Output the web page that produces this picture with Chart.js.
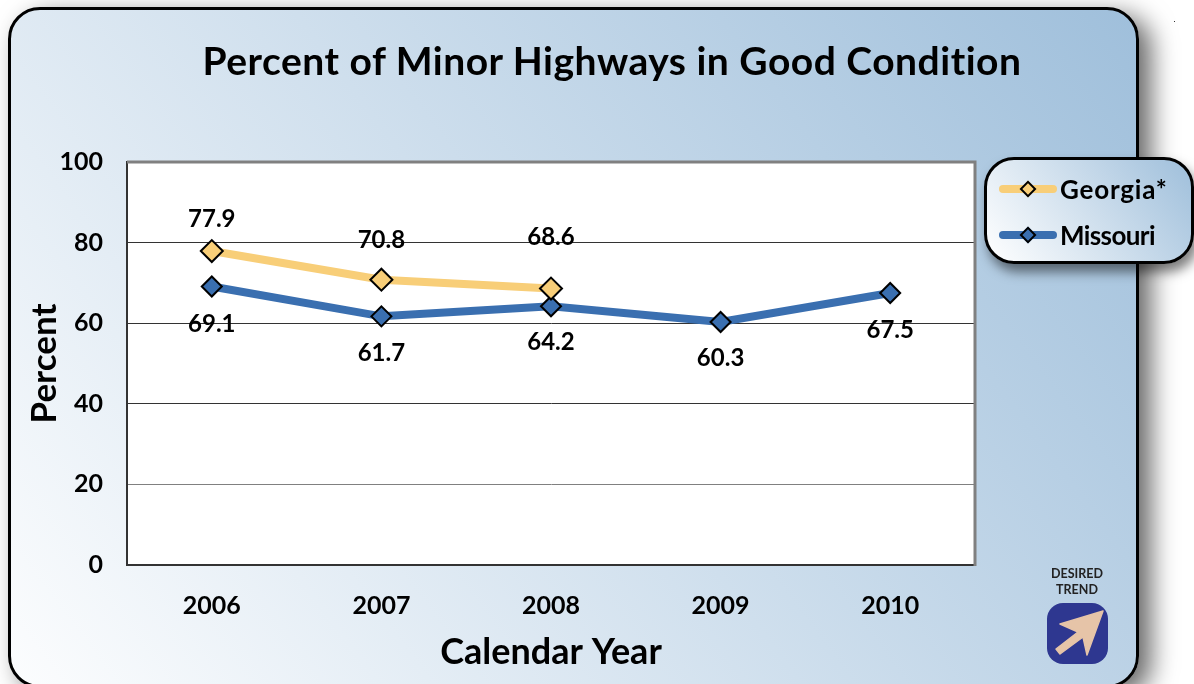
<!DOCTYPE html>
<html>
<head>
<meta charset="utf-8">
<title>Percent of Minor Highways in Good Condition</title>
<script src="https://cdn.jsdelivr.net/npm/chart.js@4"></script>
<style>
  html, body { margin: 0; padding: 0; background: #fff; overflow: hidden; }
  body { width: 1194px; height: 684px; position: relative; font-family: Lato, sans-serif; color: #000; }
  #panel {
    position: absolute; left: 8px; top: 7px; width: 1125px; height: 675px;
    border: 3px solid #000; border-radius: 32px;
    background: linear-gradient(53deg, #fcfdfe 0%, #9fbfdb 100%);
    box-shadow: 12px 8px 26px rgba(0,0,0,.6);
  }
  #dot { position: absolute; left: 1174px; top: 21px; width: 1px; height: 1px; background: #333; }
  #chart { position: absolute; left: 0; top: 0; }
  #title { position: absolute; left: 202px; top: 37px; width: 820px; text-align: center; white-space: nowrap; font-weight: 700; font-size: 39px; line-height: 46px; letter-spacing: 0.5px; }
  #legend {
    position: absolute; left: 984px; top: 157px; width: 204px; height: 101px;
    border: 3px solid #000; border-radius: 30px;
    background: linear-gradient(53deg, #ffffff 0%, #9fbfdb 100%);
    box-shadow: 4px 8px 12px rgba(0,0,0,.5);
  }
  .leg { position: absolute; left: 12px; height: 30px; display: flex; align-items: center; font-weight: 700; font-size: 26px; letter-spacing: 0.8px; }
  .leg + .leg { letter-spacing: -0.6px; }
  .leg .sw { width: 58px; height: 8px; border-radius: 4px; position: relative; margin-right: 3px; }
  .leg .sw i { position: absolute; left: 23px; top: -2px; width: 12px; height: 12px; border: 2px solid #000; box-sizing: border-box; transform: rotate(45deg); }
  #trend { position: absolute; left: 1040px; top: 566px; width: 74px; text-align: center; font-weight: 700; font-size: 12.5px; line-height: 16px; color: #222; }
  #arrow { position: absolute; left: 1046px; top: 603px; }
</style>
</head>
<body>
<div id="panel"></div>
<div id="dot"></div>
<canvas id="chart" width="1194" height="684"></canvas>
<div id="title">Percent of Minor Highways in Good Condition</div>
<div id="legend"></div>
<div id="trend">DESIRED<br>TREND</div>
<svg id="arrow" width="62" height="62" viewBox="0 0 62 62">
  <rect x="1" y="0" width="61" height="61" rx="16" fill="#2e3790"/>
  <path d="M57 8 L14 21 L32 29 L10 46 L14 51 L37 34 L41 52 Z" fill="#e6c4a8" stroke="#e6c4a8" stroke-width="1.5" stroke-linejoin="round"/>
</svg>
<script>
const years = ["2006", "2007", "2008", "2009", "2010"];
const georgia = [77.9, 70.8, 68.6, null, null];
const missouri = [69.1, 61.7, 64.2, 60.3, 67.5];
const yTicks = [0, 20, 40, 60, 80, 100];

const FONT = "Lato, sans-serif";
const GOLD = "#f8ce78";
const BLUE = "#3a6fb0";

// white plot box with the grey top and right edges
const plotBack = {
  id: "plotBack",
  beforeDraw(chart) {
    const a = chart.chartArea;
    chart.ctx.fillStyle = "#fff";
    chart.ctx.fillRect(a.left, a.top, a.width, a.height);
  },
  beforeDatasetsDraw(chart) {
    const a = chart.chartArea, ctx = chart.ctx;
    ctx.save();
    ctx.strokeStyle = "#808080";
    ctx.lineWidth = 3;
    ctx.beginPath();
    ctx.moveTo(a.left, a.top);
    ctx.lineTo(a.right, a.top);
    ctx.lineTo(a.right, a.bottom + 1);
    ctx.stroke();
    ctx.restore();
  }
};

// value labels above / below each point
const pointLabels = {
  id: "pointLabels",
  afterDatasetsDraw(chart) {
    const ctx = chart.ctx;
    ctx.save();
    ctx.font = "700 24px " + FONT;
    ctx.fillStyle = "#000";
    ctx.textAlign = "center";
    ctx.textBaseline = "middle";
    chart.data.datasets.forEach((ds, i) => {
      chart.getDatasetMeta(i).data.forEach((pt, j) => {
        if (ds.data[j] == null) return;
        ctx.fillText(ds.data[j].toFixed(1), pt.x, pt.y + ds.labelOffset[j]);
      });
    });
    ctx.restore();
  }
};

const chart = new Chart(document.getElementById("chart"), {
  type: "line",
  data: {
    labels: years,
    datasets: [{
      label: "Georgia*",
      data: georgia,
      borderColor: GOLD,
      backgroundColor: GOLD,
      borderWidth: 8,
      pointStyle: "rectRot",
      pointRadius: 11,
      pointHoverRadius: 11,
      pointBorderColor: "#000",
      pointBorderWidth: 2,
      pointBackgroundColor: GOLD,
      labelOffset: [-32, -39, -51]
    }, {
      label: "Missouri",
      data: missouri,
      borderColor: BLUE,
      backgroundColor: BLUE,
      borderWidth: 8,
      pointStyle: "rectRot",
      pointRadius: 10,
      pointHoverRadius: 10,
      pointBorderColor: "#000",
      pointBorderWidth: 2,
      pointBackgroundColor: BLUE,
      labelOffset: [38, 37, 36, 36, 37]
    }]
  },
  options: {
    responsive: false,
    animation: false,
    layout: { padding: { top: 162, right: 219, bottom: 0, left: 0 } },
    plugins: { legend: { display: false }, title: { display: false }, tooltip: { enabled: false } },
    scales: {
      x: {
        offset: true,
        afterFit(s) { s.height = 119; },
        grid: { display: false, drawTicks: false },
        border: { color: "#333", width: 2 },
        ticks: { color: "#000", padding: 26, font: { family: FONT, weight: "700", size: 25 } },
        title: { display: true, text: "Calendar Year", color: "#000", padding: { top: 0, bottom: 10 }, font: { family: FONT, weight: "700", size: 36 } }
      },
      y: {
        min: 0,
        max: 100,
        afterFit(s) { s.width = 127; },
        afterBuildTicks(s) { s.ticks = yTicks.map(v => ({ value: v })); },
        grid: { color: c => (c.tick.value === 20 ? "#808080" : "#333"), lineWidth: c => (c.tick.value === 100 ? 0 : 1), drawTicks: false },
        border: { color: "#333", width: 2 },
        ticks: { color: "#000", padding: 24, font: { family: FONT, weight: "700", size: 25 } },
        title: { display: true, text: "Percent", color: "#000", padding: { top: 24, bottom: 0 }, font: { family: FONT, weight: "700", size: 35 } }
      }
    }
  },
  plugins: [plotBack, pointLabels]
});

// legend is html because of its rounded gradient box, filled from the datasets
const legendEl = document.getElementById("legend");
chart.data.datasets.forEach((ds, i) => {
  const row = document.createElement("div");
  row.className = "leg";
  row.style.top = (14 + i * 46) + "px";
  row.innerHTML = `<span class="sw" style="background:${ds.borderColor}"><i style="background:${ds.pointBackgroundColor}"></i></span>${ds.label}`;
  legendEl.appendChild(row);
});
</script>
</body>
</html>
